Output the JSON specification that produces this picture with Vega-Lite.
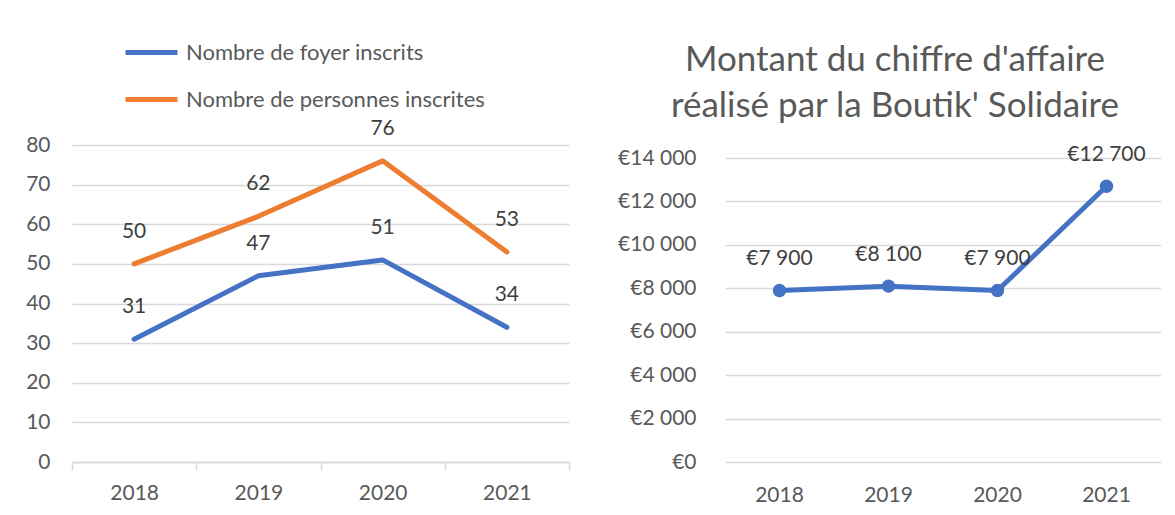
{
  "$schema": "https://vega.github.io/schema/vega-lite/v6.json",
  "background": "white",
  "padding": {"left": 25, "top": 24, "right": 0, "bottom": 0},
  "config": {
    "font": "Lato",
    "view": {"stroke": null},
    "locale": {"number": {"decimal": ",", "thousands": " ", "grouping": [3], "currency": ["€", ""]}},
    "axis": {"labelFont": "Lato", "labelFontSize": 21, "labelColor": "#595959", "title": null, "gridColor": "#d9d9d9", "gridWidth": 1.5, "domainColor": "#d9d9d9", "tickColor": "#d9d9d9", "domainWidth": 1.5, "tickWidth": 1.5}
  },
  "bounds": "flush",
  "spacing": 156,
  "datasets": {
    "inscrits": [
      {"year": "2018", "series": "Nombre de foyer inscrits", "value": 31},
      {"year": "2019", "series": "Nombre de foyer inscrits", "value": 47},
      {"year": "2020", "series": "Nombre de foyer inscrits", "value": 51},
      {"year": "2021", "series": "Nombre de foyer inscrits", "value": 34},
      {"year": "2018", "series": "Nombre de personnes inscrites", "value": 50},
      {"year": "2019", "series": "Nombre de personnes inscrites", "value": 62},
      {"year": "2020", "series": "Nombre de personnes inscrites", "value": 76},
      {"year": "2021", "series": "Nombre de personnes inscrites", "value": 53}
    ],
    "ca": [
      {"year": "2018", "montant": 7900},
      {"year": "2019", "montant": 8100},
      {"year": "2020", "montant": 7900},
      {"year": "2021", "montant": 12700}
    ]
  },
  "hconcat": [
    {
      "width": 497,
      "height": 317,
      "data": {"name": "inscrits"},
      "encoding": {
        "x": {"field": "year", "type": "ordinal", "scale": {"type": "band", "paddingInner": 0, "paddingOuter": 0},
              "axis": {"labelAngle": 0, "domain": true, "ticks": true, "tickBand": "extent", "tickSize": 8, "labelPadding": 12, "grid": false}},
        "y": {"field": "value", "type": "quantitative", "scale": {"domain": [0, 80]},
              "axis": {"values": [0, 10, 20, 30, 40, 50, 60, 70, 80], "domain": false, "ticks": false, "labelPadding": 22, "grid": true}}
      },
      "layer": [
        {
          "mark": {"type": "line", "strokeWidth": 5, "strokeCap": "round", "strokeJoin": "round"},
          "encoding": {
            "color": {"field": "series", "type": "nominal",
              "scale": {"domain": ["Nombre de foyer inscrits", "Nombre de personnes inscrites"], "range": ["#4472C4", "#ED7D31"]},
              "legend": {"orient": "none", "legendX": 51, "legendY": -121, "title": null, "direction": "vertical",
                "symbolType": "stroke", "symbolSize": 2700, "symbolStrokeWidth": 5, "labelFontSize": 22, "labelColor": "#595959",
                "labelFont": "Lato", "labelOffset": 6, "rowPadding": 7, "labelLimit": 500}}
          }
        },
        {
          "mark": {"type": "text", "fontSize": 21, "color": "#404040", "dy": -32, "baseline": "middle"},
          "encoding": {"text": {"field": "value", "type": "quantitative"}}
        }
      ]
    },
    {
      "width": 436,
      "height": 317,
      "data": {"name": "ca"},
      "title": {"text": ["Montant du chiffre d'affaire", "réalisé par la Boutik' Solidaire"], "fontSize": 35, "font": "Lato", "fontWeight": "normal", "color": "#595959", "anchor": "middle", "dx": -48, "offset": 20, "lineHeight": 46},
      "encoding": {
        "x": {"field": "year", "type": "ordinal", "scale": {"type": "band", "paddingInner": 0, "paddingOuter": 0},
              "axis": {"labelAngle": 0, "domain": false, "ticks": false, "labelPadding": 22, "grid": false}},
        "y": {"field": "montant", "type": "quantitative", "scale": {"domain": [0, 14600]},
              "axis": {"values": [0, 2000, 4000, 6000, 8000, 10000, 12000, 14000], "format": "$,.0f", "domain": false, "ticks": false, "labelPadding": 29, "grid": true}}
      },
      "layer": [
        {"mark": {"type": "line", "strokeWidth": 5, "color": "#4472C4", "strokeCap": "round", "strokeJoin": "round"}, "encoding": {}},
        {"mark": {"type": "circle", "size": 180, "color": "#4472C4", "opacity": 1}, "encoding": {}},
        {
          "mark": {"type": "text", "fontSize": 21, "color": "#404040", "dy": -31, "baseline": "middle"},
          "encoding": {"text": {"field": "montant", "type": "quantitative", "format": "$,.0f"}}
        }
      ]
    }
  ]
}
